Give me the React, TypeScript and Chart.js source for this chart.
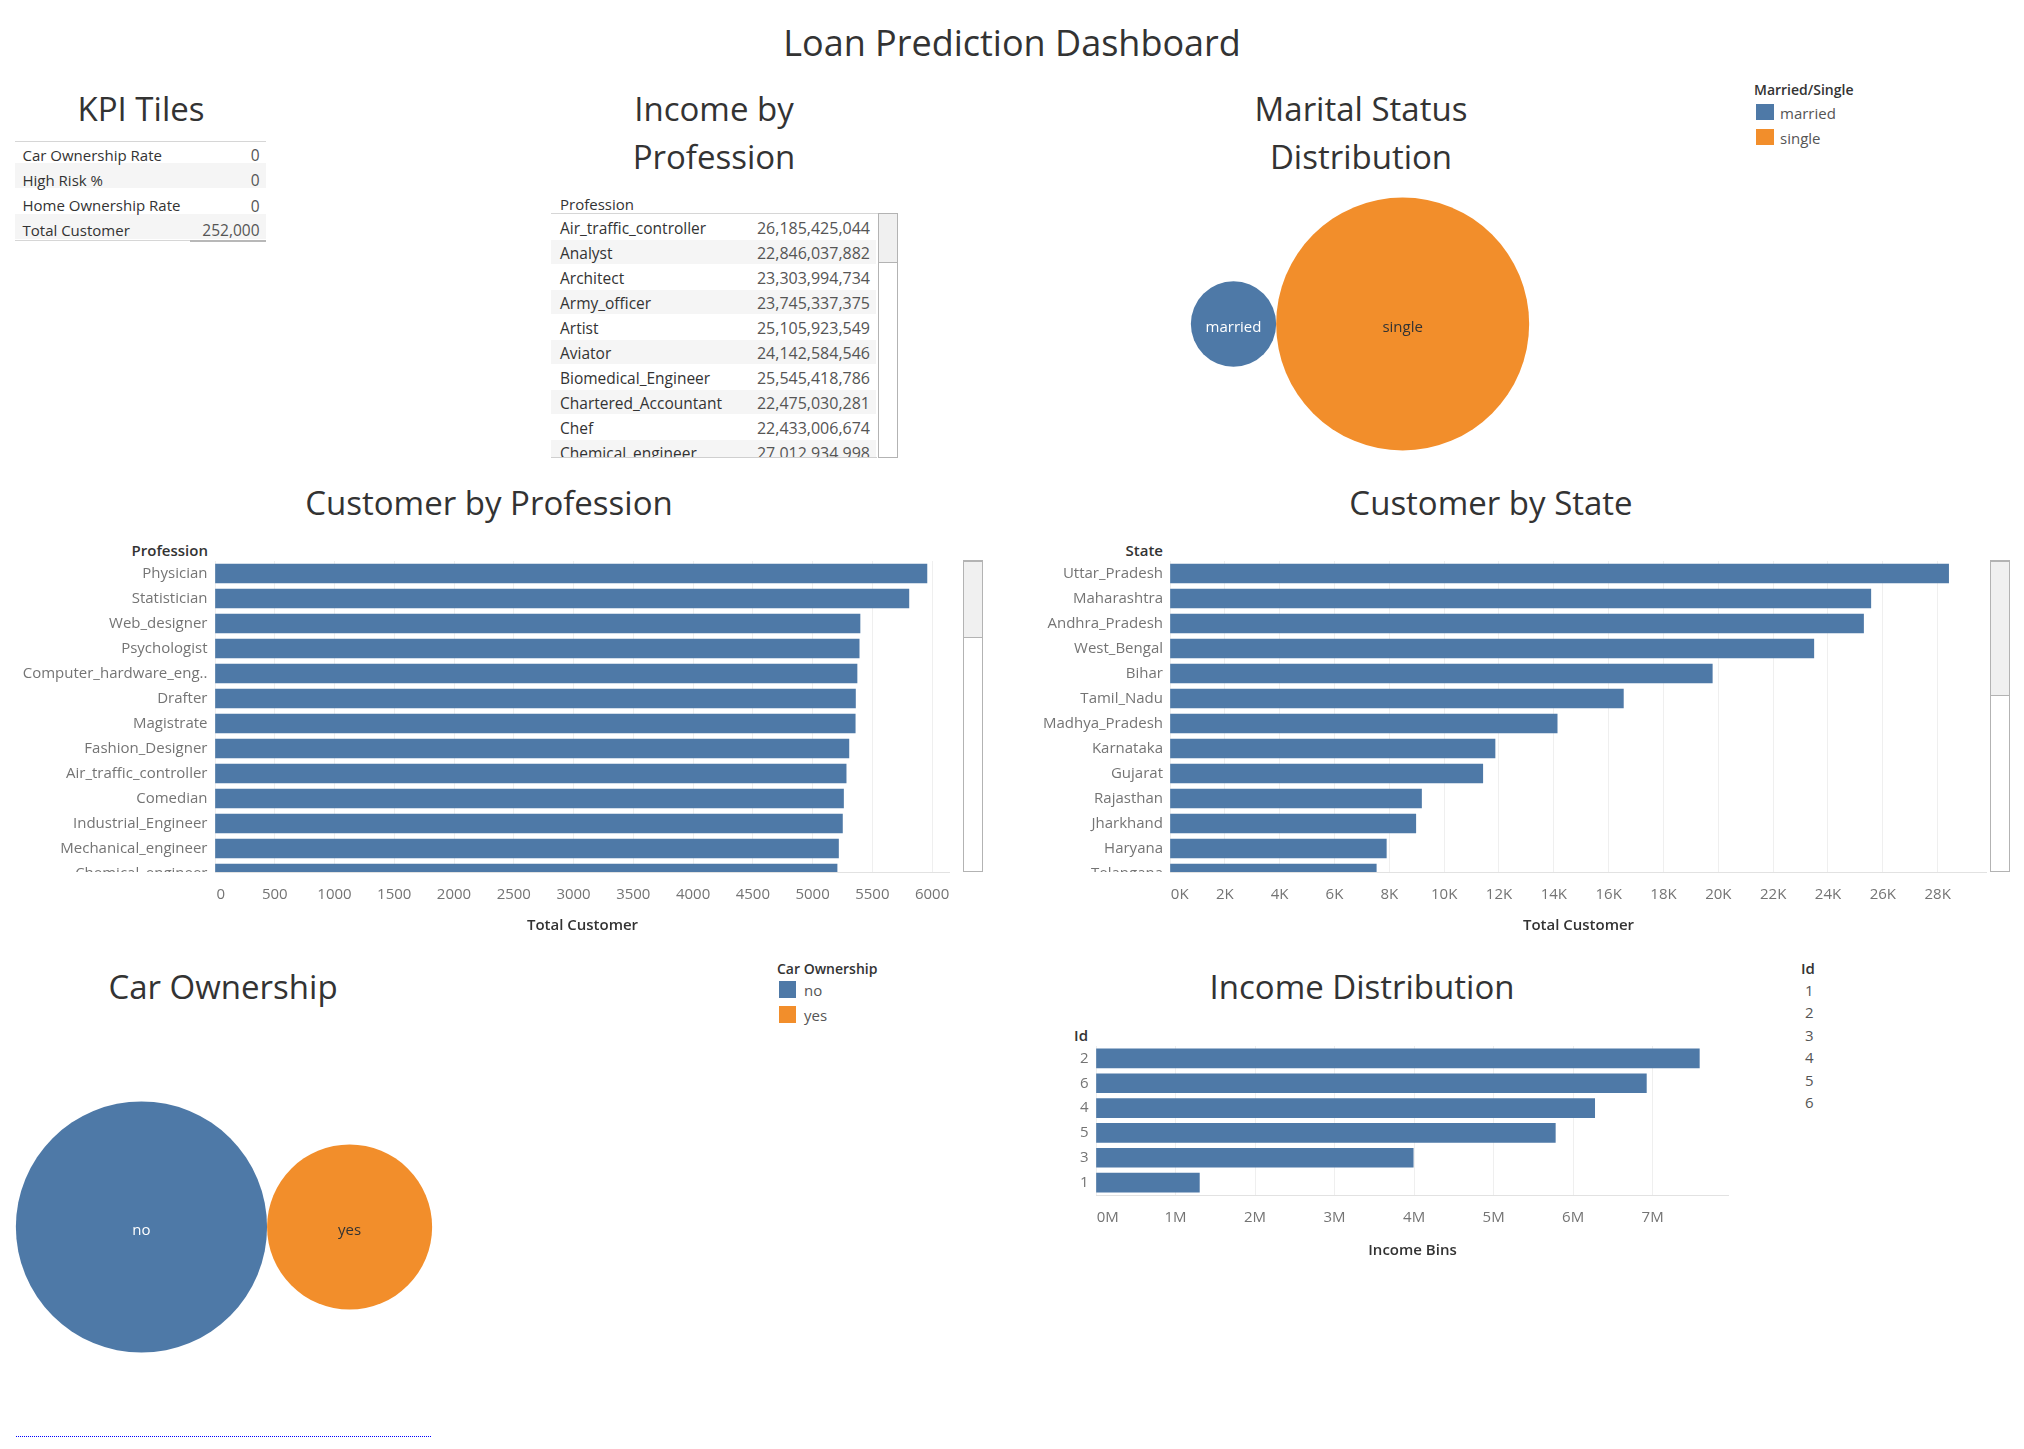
import React, { useEffect, useRef } from "react";
import { Chart, registerables } from "chart.js";
Chart.register(...registerables);

const FONT = "'Open Sans', 'Noto Sans', sans-serif";
const BLUE = "#4e79a7";
const ORANGE = "#f28e2b";
const DARK = "#333333";
const LABEL = "#747474";
const VALUE = "#555555";

// ---------- data ----------
const kpiLabels = ["Car Ownership Rate", "High Risk %", "Home Ownership Rate", "Total Customer"];
const kpiValues = [0, 0, 0, 252000];

const incomeProfessions = [
  "Air_traffic_controller", "Analyst", "Architect", "Army_officer", "Artist",
  "Aviator", "Biomedical_Engineer", "Chartered_Accountant", "Chef", "Chemical_engineer",
];
const incomeTotals = [
  26185425044, 22846037882, 23303994734, 23745337375, 25105923549,
  24142584546, 25545418786, 22475030281, 22433006674, 27012934998,
];

const maritalLabels = ["married", "single"];
const maritalCounts = [25728, 226272];

const professionLabels = [
  "Physician", "Statistician", "Web_designer", "Psychologist", "Computer_hardware_engineer",
  "Drafter", "Magistrate", "Fashion_Designer", "Air_traffic_controller", "Comedian",
  "Industrial_Engineer", "Mechanical_engineer", "Chemical_engineer",
];
const professionCounts = [5957, 5806, 5397, 5390, 5372, 5359, 5357, 5304, 5281, 5259, 5250, 5217, 5205];
const professionTicks = { max: 6150, step: 500 };

const stateLabels = [
  "Uttar_Pradesh", "Maharashtra", "Andhra_Pradesh", "West_Bengal", "Bihar", "Tamil_Nadu",
  "Madhya_Pradesh", "Karnataka", "Gujarat", "Rajasthan", "Jharkhand", "Haryana", "Telangana",
];
const stateCounts = [28400, 25562, 25297, 23483, 19780, 16537, 14122, 11855, 11408, 9174, 8965, 7890, 7524];
const stateTicks = { max: 29800, step: 2000 };

const carLabels = ["no", "yes"];
const carCounts = [176000, 76000];

const incomeBinIds = ["2", "6", "4", "5", "3", "1"];
const incomeBinValues = [7587000, 6921000, 6271000, 5776000, 3989000, 1300000];
const incomeBinTicks = { max: 7960000, step: 1000000 };
const idLegend = ["1", "2", "3", "4", "5", "6"];

// ---------- helpers ----------
type TProps = {
  x: number; y: number; size?: number; align?: "left" | "center" | "right";
  color?: string; weight?: number; children: React.ReactNode;
};
function T({ x, y, size = 15, align = "left", color = DARK, weight = 400, children }: TProps) {
  const lh = Math.round(size * 1.4);
  const tx = align === "center" ? "translateX(-50%)" : align === "right" ? "translateX(-100%)" : "none";
  return (
    <div style={{
      position: "absolute", left: x, top: y - lh / 2, height: lh, lineHeight: lh + "px",
      fontSize: size, color, fontWeight: weight, whiteSpace: "nowrap", transform: tx,
    }}>{children}</div>
  );
}

function Box(props: { l: number; t: number; w: number; h: number; style?: React.CSSProperties }) {
  return <div style={{ position: "absolute", left: props.l, top: props.t, width: props.w, height: props.h, boxSizing: "border-box", ...props.style }} />;
}

const trunc = (s: string) => (s.length > 23 ? s.slice(0, 21) + ".." : s);

// Tableau puts the first axis label to the right of its gridline: pad it with leading spaces
let measureCtx: CanvasRenderingContext2D | null = null;
function leftAligned(label: string): string {
  if (!measureCtx) measureCtx = document.createElement("canvas").getContext("2d");
  if (!measureCtx) return label;
  measureCtx.font = `15px ${FONT}`;
  const w = measureCtx.measureText(label).width;
  const sp = measureCtx.measureText(" ").width || 4;
  const n = Math.max(0, Math.round((w + 2) / sp));
  return " ".repeat(n) + label;
}

type BarProps = {
  left: number; top: number; width: number; height: number;
  yAxisWidth: number; xAxisHeight: number;
  labels: string[]; values: number[];
  max: number; step: number; fmt: (v: number) => string;
  axisTitle: string; titlePad: number; tickPad: number; labelPad: number;
  visibleRows?: number;
};

function HBarChart(p: BarProps) {
  const ref = useRef<HTMLCanvasElement>(null);
  useEffect(() => {
    const canvas = ref.current;
    if (!canvas) return;
    const scrolling = p.visibleRows !== undefined;
    const small = { family: FONT, size: 15 };
    const yScale: any = scrolling
      ? {
          type: "linear", reverse: true, offset: false, min: -0.5, max: (p.visibleRows as number) - 0.5,
          afterBuildTicks: (s: any) => {
            s.ticks = p.labels.map((_l, i) => ({ value: i })).filter((t) => t.value <= s.max);
          },
          ticks: {
            autoSkip: false, padding: p.labelPad, color: LABEL, font: small,
            callback: (v: any) => (Number.isInteger(v) && p.labels[v] !== undefined ? trunc(p.labels[v]) : ""),
          },
        }
      : {
          type: "category",
          ticks: { autoSkip: false, padding: p.labelPad, color: LABEL, font: small, callback: (_v: any, i: number) => trunc(p.labels[i]) },
        };
    yScale.grid = { display: false, drawTicks: false };
    yScale.border = { display: false };
    yScale.afterFit = (s: any) => { s.width = p.yAxisWidth; s.paddingTop = 0; s.paddingBottom = 0; };

    const clipped = {
      id: "clippedLabels",
      afterDraw(chart: any) {
        if (!scrolling) return;
        const ys = chart.scales.y;
        const area = chart.chartArea;
        const ctx = chart.ctx;
        ctx.save();
        ctx.beginPath();
        ctx.rect(0, area.top, area.left, area.bottom - area.top);
        ctx.clip();
        ctx.font = `15px ${FONT}`;
        ctx.fillStyle = LABEL;
        ctx.textAlign = "right";
        ctx.textBaseline = "middle";
        p.labels.forEach((l, i) => {
          if (i > ys.max) ctx.fillText(trunc(l), area.left - p.labelPad, ys.getPixelForValue(i));
        });
        ctx.restore();
      },
    };

    const tickValues: number[] = [];
    for (let v = 0; v <= p.max; v += p.step) tickValues.push(v);

    const chart = new Chart(canvas, {
      type: "bar",
      data: scrolling
        ? { datasets: [{ data: p.values.map((v, i) => ({ x: v, y: i })) as any, backgroundColor: BLUE, borderWidth: 0, barThickness: 19 }] }
        : { labels: p.labels, datasets: [{ data: p.values, backgroundColor: BLUE, borderWidth: 0, barThickness: 19 }] },
      options: {
        indexAxis: "y",
        responsive: false,
        animation: false,
        events: [],
        layout: { padding: 0, autoPadding: false } as any,
        plugins: { legend: { display: false }, tooltip: { enabled: false } },
        scales: {
          x: {
            type: "linear", position: "bottom", min: 0, max: p.max, offset: false,
            afterBuildTicks: (s: any) => { s.ticks = tickValues.map((v) => ({ value: v })); },
            ticks: {
              autoSkip: false, maxRotation: 0, minRotation: 0, padding: p.tickPad, color: LABEL, font: small,
              callback: (v: any, i: number) => (i === 0 ? leftAligned(p.fmt(Number(v))) : p.fmt(Number(v))),
            },
            grid: { color: "#efefef", drawTicks: false, lineWidth: 1 },
            border: { display: true, color: "#e2e2e2", width: 1 },
            title: {
              display: true, text: p.axisTitle, color: DARK,
              font: { family: FONT, size: 15, weight: "600" as any },
              padding: { top: 0, bottom: p.titlePad },
            },
            afterFit: (s: any) => { s.height = p.xAxisHeight; s.paddingLeft = 0; s.paddingRight = 0; },
          } as any,
          y: yScale,
        },
      },
      plugins: [clipped],
    });
    return () => chart.destroy();
  }, []);
  return <canvas ref={ref} width={p.width} height={p.height} style={{ position: "absolute", left: p.left, top: p.top }} />;
}

type BubbleProps = {
  left: number; top: number; width: number; height: number;
  labels: string[]; counts: number[]; colors: string[]; textColors: string[]; maxRadius: number;
};
function BubbleChart(p: BubbleProps) {
  const ref = useRef<HTMLCanvasElement>(null);
  useEffect(() => {
    const canvas = ref.current;
    if (!canvas) return;
    const maxC = Math.max(...p.counts);
    const radii = p.counts.map((c) => p.maxRadius * Math.sqrt(c / maxC));
    const total = radii.reduce((a, r) => a + 2 * r, 0);
    let cursor = p.width / 2 - total / 2;
    const pts = radii.map((r) => { const x = cursor + r; cursor += 2 * r; return { x, y: p.height / 2, r }; });
    const labelPlugin = {
      id: "bubbleLabels",
      afterDatasetsDraw(chart: any) {
        const ctx = chart.ctx;
        const meta = chart.getDatasetMeta(0);
        ctx.save();
        ctx.font = `15px ${FONT}`;
        ctx.textAlign = "center";
        ctx.textBaseline = "middle";
        meta.data.forEach((el: any, i: number) => {
          ctx.fillStyle = p.textColors[i];
          ctx.fillText(p.labels[i], el.x, el.y + 4);
        });
        ctx.restore();
      },
    };
    const chart = new Chart(canvas, {
      type: "bubble",
      data: { labels: p.labels, datasets: [{ data: pts, backgroundColor: p.colors, borderWidth: 0, hoverBorderWidth: 0, clip: false as any }] },
      options: {
        responsive: false, animation: false, events: [],
        layout: { padding: 0, autoPadding: false } as any,
        plugins: { legend: { display: false }, tooltip: { enabled: false } },
        scales: {
          x: { type: "linear", min: 0, max: p.width, display: false },
          y: { type: "linear", min: 0, max: p.height, display: false },
        },
      },
      plugins: [labelPlugin],
    });
    return () => chart.destroy();
  }, []);
  return <canvas ref={ref} width={p.width} height={p.height} style={{ position: "absolute", left: p.left, top: p.top }} />;
}

const fmtNum = (v: number) => v.toLocaleString("en-US");

export default function App() {
  const kpiTextY = [155, 180, 205.5, 230];
  return (
    <div style={{ position: "absolute", left: 0, top: 0, width: 2024, height: 1449, overflow: "hidden", background: "#fff", fontFamily: FONT, color: DARK }}>
      {/* main title */}
      <T x={1012} y={42.5} size={36} align="center">Loan Prediction Dashboard</T>

      {/* KPI tiles */}
      <T x={141} y={108.5} size={33} align="center">KPI Tiles</T>
      <Box l={15} t={141} w={251} h={1} style={{ background: "#d6d6d6" }} />
      <Box l={15} t={163} w={251} h={25} style={{ background: "#f5f5f5" }} />
      <Box l={15} t={214} w={251} h={25} style={{ background: "#f5f5f5" }} />
      <Box l={15} t={240} w={251} h={1} style={{ background: "#d6d6d6" }} />
      <Box l={190} t={240} w={76} h={1.5} style={{ background: "#b8b8b8" }} />
      {kpiLabels.map((l, i) => (
        <React.Fragment key={l}>
          <T x={22.5} y={kpiTextY[i]} size={15}>{l}</T>
          <T x={259.5} y={kpiTextY[i]} size={15.5} align="right" color={VALUE}>{fmtNum(kpiValues[i])}</T>
        </React.Fragment>
      ))}

      {/* Income by profession table */}
      <T x={714} y={108.5} size={33} align="center">Income by</T>
      <T x={714} y={157} size={33} align="center">Profession</T>
      <T x={560} y={204} size={15}>Profession</T>
      <Box l={551} t={213} w={347} h={1} style={{ background: "#d6d6d6" }} />
      <div style={{ position: "absolute", left: 551, top: 214, width: 326, height: 243, overflow: "hidden" }}>
        {incomeProfessions.map((name, i) => (
          <React.Fragment key={name}>
            {i % 2 === 1 && <Box l={0} t={1 + 25 * i} w={325} h={24} style={{ background: "#f5f5f5" }} />}
            <T x={9} y={14 + 25 * i} size={15.5}>{name}</T>
            <T x={319} y={14 + 25 * i} size={16} align="right" color={VALUE}>{fmtNum(incomeTotals[i])}</T>
          </React.Fragment>
        ))}
      </div>
      <Box l={551} t={457} w={326} h={1} style={{ background: "#cfcfcf" }} />
      <Box l={878} t={213} w={20} h={245} style={{ border: "1px solid #b3b3b3", background: "#fff" }} />
      <Box l={878} t={213} w={20} h={50} style={{ border: "1px solid #b3b3b3", background: "#f0f0f0" }} />

      {/* Marital status */}
      <T x={1361} y={108.5} size={33} align="center">Marital Status</T>
      <T x={1361} y={157} size={33} align="center">Distribution</T>
      <BubbleChart left={1100} top={190} width={520} height={268} labels={maritalLabels} counts={maritalCounts}
        colors={[BLUE, ORANGE]} textColors={["#ffffff", DARK]} maxRadius={126.5} />
      <T x={1754} y={90} size={14} weight={600}>Married/Single</T>
      {maritalLabels.map((l, i) => (
        <React.Fragment key={l}>
          <Box l={1756} t={103.5 + 25 * i} w={18} h={16} style={{ background: [BLUE, ORANGE][i] }} />
          <T x={1780} y={113 + 25 * i} size={15} color={VALUE}>{l}</T>
        </React.Fragment>
      ))}

      {/* Customer by Profession */}
      <T x={489} y={502.5} size={33} align="center">Customer by Profession</T>
      <T x={208} y={550} size={15} align="right" weight={600}>Profession</T>
      <HBarChart left={0} top={561} width={950} height={377} yAxisWidth={215} xAxisHeight={66}
        labels={professionLabels} values={professionCounts} max={professionTicks.max} step={professionTicks.step}
        fmt={(v) => String(v)} axisTitle="Total Customer" titlePad={3} tickPad={14} labelPad={7.5} visibleRows={12.44} />
      <Box l={963} t={560} w={20} h={312} style={{ border: "1px solid #b3b3b3", borderTopWidth: 2, background: "#fff" }} />
      <Box l={963} t={560} w={20} h={78} style={{ border: "1px solid #b3b3b3", borderTopWidth: 2, background: "#f0f0f0" }} />

      {/* Customer by State */}
      <T x={1491} y={502.5} size={33} align="center">Customer by State</T>
      <T x={1163} y={550} size={15} align="right" weight={600}>State</T>
      <HBarChart left={1000} top={561} width={987} height={377} yAxisWidth={170} xAxisHeight={66}
        labels={stateLabels} values={stateCounts} max={stateTicks.max} step={stateTicks.step}
        fmt={(v) => v / 1000 + "K"} axisTitle="Total Customer" titlePad={3} tickPad={14} labelPad={7} visibleRows={12.44} />
      <Box l={1990} t={560} w={20} h={312} style={{ border: "1px solid #b3b3b3", borderTopWidth: 2, background: "#fff" }} />
      <Box l={1990} t={560} w={20} h={136} style={{ border: "1px solid #b3b3b3", borderTopWidth: 2, background: "#f0f0f0" }} />

      {/* Car ownership */}
      <T x={223} y={986.5} size={33} align="center">Car Ownership</T>
      <BubbleChart left={0} top={1090} width={448} height={274} labels={carLabels} counts={carCounts}
        colors={[BLUE, ORANGE]} textColors={["#ffffff", DARK]} maxRadius={125.6} />
      <T x={777} y={968.5} size={14} weight={600}>Car Ownership</T>
      {carLabels.map((l, i) => (
        <React.Fragment key={l}>
          <Box l={779} t={980.5 + 25 * i} w={17} h={17.5} style={{ background: [BLUE, ORANGE][i] }} />
          <T x={804} y={990 + 25.5 * i} size={15} color={VALUE}>{l}</T>
        </React.Fragment>
      ))}
      <div style={{ position: "absolute", left: 16, top: 1436, width: 415, height: 0, borderTop: "1px dotted #0000ff" }} />

      {/* Income distribution */}
      <T x={1362} y={987} size={33} align="center">Income Distribution</T>
      <T x={1088} y={1035} size={15} align="right" weight={600}>Id</T>
      <HBarChart left={1040} top={1046} width={689} height={215} yAxisWidth={56} xAxisHeight={66}
        labels={incomeBinIds} values={incomeBinValues} max={incomeBinTicks.max} step={incomeBinTicks.step}
        fmt={(v) => v / 1000000 + "M"} axisTitle="Income Bins" titlePad={1.5} tickPad={14} labelPad={7.5} />
      <T x={1801} y={968.5} size={15} weight={600}>Id</T>
      {idLegend.map((id, i) => (
        <T key={id} x={1805} y={990 + 22.5 * i} size={15} color={VALUE}>{id}</T>
      ))}
    </div>
  );
}
